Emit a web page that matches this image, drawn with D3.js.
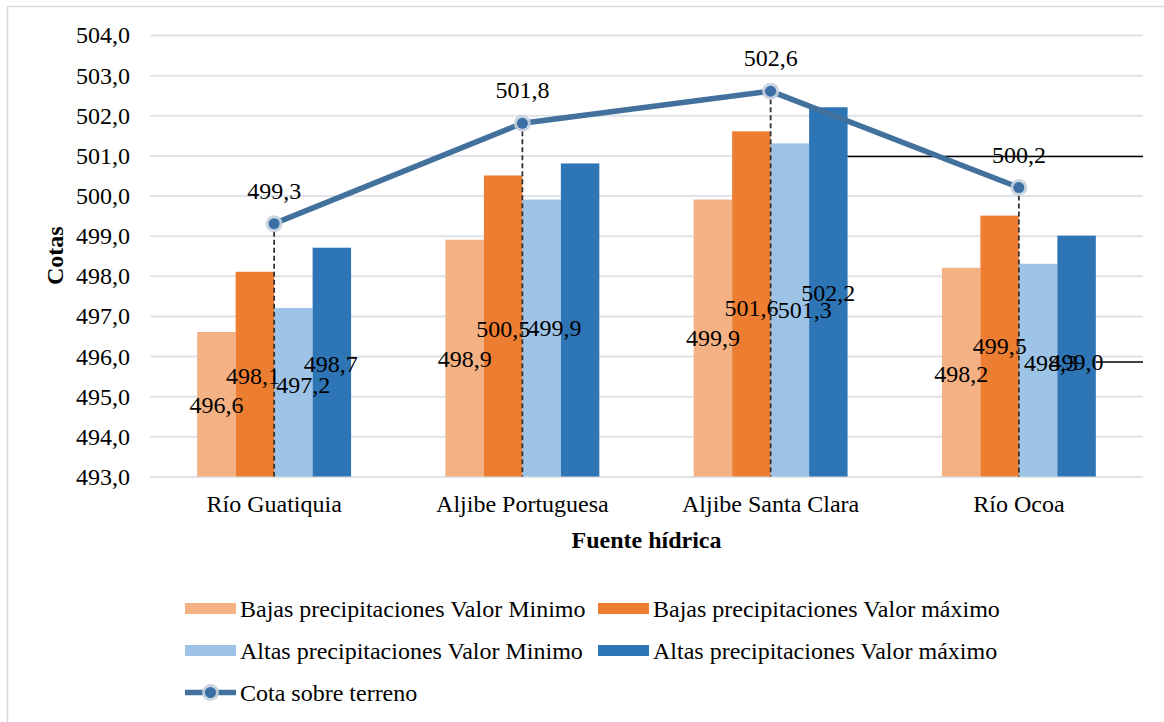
<!DOCTYPE html>
<html>
<head>
<meta charset="utf-8">
<script src="https://cdn.jsdelivr.net/npm/d3@7"></script>
<style>
    body { margin: 0; background: #fff; }
    svg text { font-family: "Liberation Serif", "Times New Roman", serif; fill: #000; }
</style>
</head>
<body>
<div id="myChart"></div>
<script>
// categories and series
const categories = ["Río Guatiquia", "Aljibe Portuguesa", "Aljibe Santa Clara", "Río Ocoa"];
const seriesNames = [
    "Bajas precipitaciones Valor Minimo",
    "Bajas precipitaciones Valor máximo",
    "Altas precipitaciones Valor Minimo",
    "Altas precipitaciones Valor máximo"
];
const bajasMin = [496.6, 498.9, 499.9, 498.2];
const bajasMax = [498.1, 500.5, 501.6, 499.5];
const altasMin = [497.2, 499.9, 501.3, 498.3];
const altasMax = [498.7, 500.8, 502.2, 499.0];
const cotaName = "Cota sobre terreno";
const cotaTerreno = [499.3, 501.8, 502.6, 500.2];
const yTicks = [493, 494, 495, 496, 497, 498, 499, 500, 501, 502, 503, 504];

const barColors = ["#f4b183", "#ed7d31", "#9dc3e6", "#2e75b6"];
const lineColor = "#41719c";

let width = 1164, height = 722;
let plot = { left: 150, right: 1143, top: 35, bottom: 476.5 };

const fmt = v => d3.format(".1f")(v).replace(".", ",");

let svg = d3.select('#myChart')
    .append('svg')
    .attr('width', width)
    .attr('height', height);

// outer border
svg.append("rect")
    .attr("x", 7.5).attr("y", 6.5)
    .attr("width", 1170).attr("height", 730)
    .attr("fill", "none")
    .attr("stroke", "#d9d9d9")
    .attr("stroke-width", 1.5);

let x0 = d3.scaleBand()
    .domain(categories)
    .range([plot.left, plot.right])
    .paddingInner(0.38)
    .paddingOuter(0.19);

let x1 = d3.scaleBand()
    .domain(d3.range(4))
    .range([0, x0.bandwidth()]);

let y = d3.scaleLinear()
    .domain([493, 504])
    .range([plot.bottom, plot.top]);

// gridlines
svg.append("g")
    .attr("class", "grid")
    .attr("transform", "translate(" + plot.left + ",0)")
    .call(d3.axisLeft(y)
        .tickValues(yTicks)
        .tickSize(-(plot.right - plot.left))
        .tickFormat(""))
    .call(g => g.select(".domain").remove())
    .call(g => g.selectAll("line").attr("stroke", "#dfe2e7").attr("stroke-width", 2));

// y axis labels
svg.append("g")
    .attr("transform", "translate(" + (plot.left - 20) + ",0)")
    .call(d3.axisLeft(y).tickValues(yTicks).tickSize(0).tickPadding(0).tickFormat(fmt))
    .call(g => g.select(".domain").remove())
    .call(g => g.selectAll("text")
        .style("font-family", '"Liberation Serif", serif')
        .style("font-size", "24px")
        .attr("dy", "0.33em"));

// category labels
svg.append("g")
    .attr("transform", "translate(0," + plot.bottom + ")")
    .call(d3.axisBottom(x0).tickSize(0).tickPadding(0))
    .call(g => g.select(".domain").remove())
    .call(g => g.selectAll("text")
        .style("font-family", '"Liberation Serif", serif')
        .style("font-size", "24px")
        .attr("dy", "35px"));

// axis titles
svg.append("text")
    .attr("x", (plot.left + plot.right) / 2)
    .attr("y", 548)
    .attr("text-anchor", "middle")
    .style("font-size", "24px")
    .style("font-weight", "bold")
    .text("Fuente hídrica");

svg.append("text")
    .attr("transform", "translate(63," + ((plot.top + plot.bottom) / 2) + ") rotate(-90)")
    .attr("text-anchor", "middle")
    .style("font-size", "24px")
    .style("font-weight", "bold")
    .text("Cotas");

// bars
const series = [bajasMin, bajasMax, altasMin, altasMax];
let bars = [];
series.forEach((vals, s) => {
    vals.forEach((v, i) => bars.push({ s: s, cat: categories[i], i: i, value: v }));
});

svg.append("g")
    .selectAll("rect")
    .data(bars)
    .enter()
    .append("rect")
    .attr("x", d => x0(d.cat) + x1(d.s))
    .attr("width", x1.bandwidth())
    .attr("y", d => y(d.value))
    .attr("height", d => y(493) - y(d.value))
    .attr("fill", d => barColors[d.s]);

// drop lines from the line points
svg.append("g")
    .selectAll("line")
    .data(cotaTerreno)
    .enter()
    .append("line")
    .attr("x1", (d, i) => x0(categories[i]) + x0.bandwidth() / 2)
    .attr("x2", (d, i) => x0(categories[i]) + x0.bandwidth() / 2)
    .attr("y1", d => y(d))
    .attr("y2", plot.bottom)
    .attr("stroke", "#333")
    .attr("stroke-width", 1.8)
    .attr("stroke-dasharray", "5,3");

// stray black lines
const strayLines = [{ i: 2, v: 500.97 }, { i: 3, v: 495.85 }];
svg.append("g")
    .selectAll("line")
    .data(strayLines)
    .enter()
    .append("line")
    .attr("x1", d => x0(categories[d.i]) + x0.bandwidth())
    .attr("x2", plot.right)
    .attr("y1", d => y(d.v))
    .attr("y2", d => y(d.v))
    .attr("stroke", "#000")
    .attr("stroke-width", 1.5);

// bar labels sit in the middle of the bar, nudged like in the original
// (one label is not shown in the original)
const labelNudge = [
    [[0, 1], [0, 1], [0, 0], [0, 2]],
    [[-2, 2], [0, 3], [0, 4], [0, 0]],
    [[10, -7], [13, -10], [15, 0], [13, -7]],
    [[-1, 2], [0, 0], [0, 1], [0, 6]]
];
svg.append("g")
    .selectAll("text")
    .data(bars.filter(d => !(d.s == 3 && d.i == 1)))
    .enter()
    .append("text")
    .attr("x", d => x0(d.cat) + x1(d.s) + x1.bandwidth() / 2 + labelNudge[d.s][d.i][0])
    .attr("y", d => y((d.value + 493) / 2) + labelNudge[d.s][d.i][1])
    .attr("dy", "0.34em")
    .attr("text-anchor", "middle")
    .style("font-size", "24px")
    .text(d => fmt(d.value));

// line
let line = d3.line()
    .x((d, i) => x0(categories[i]) + x0.bandwidth() / 2)
    .y(d => y(d));

svg.append("path")
    .datum(cotaTerreno)
    .attr("d", line)
    .attr("fill", "none")
    .attr("stroke", lineColor)
    .attr("stroke-width", 5.5);

function marker(g, cx, cy) {
    g.append("circle").attr("cx", cx).attr("cy", cy).attr("r", 8.5)
        .attr("fill", "#c5d0de").attr("opacity", 0.9);
    g.append("circle").attr("cx", cx).attr("cy", cy).attr("r", 5.5)
        .attr("fill", "#3b6ea5");
}

let markers = svg.append("g");
cotaTerreno.forEach((v, i) => {
    let cx = x0(categories[i]) + x0.bandwidth() / 2;
    marker(markers, cx, y(v));
    markers.append("text")
        .attr("x", cx)
        .attr("y", y(v) - 25)
        .attr("text-anchor", "middle")
        .style("font-size", "24px")
        .text(fmt(v));
});

// legend
let legend = svg.append("g");
const legPos = [[185, 608.5], [598, 608.5], [185, 650.5], [598, 650.5]];
seriesNames.forEach((name, s) => {
    let p = legPos[s];
    legend.append("rect")
        .attr("x", p[0]).attr("y", p[1] - 5.5)
        .attr("width", 51).attr("height", 11)
        .attr("fill", barColors[s]);
    legend.append("text")
        .attr("x", p[0] + 55)
        .attr("y", p[1] + 8)
        .style("font-size", "24px")
        .text(name);
});

legend.append("line")
    .attr("x1", 185).attr("x2", 236)
    .attr("y1", 692.5).attr("y2", 692.5)
    .attr("stroke", lineColor)
    .attr("stroke-width", 5.5);
marker(legend, 210.5, 692.5);
legend.append("text")
    .attr("x", 240)
    .attr("y", 700.5)
    .style("font-size", "24px")
    .text(cotaName);
</script>
</body>
</html>
